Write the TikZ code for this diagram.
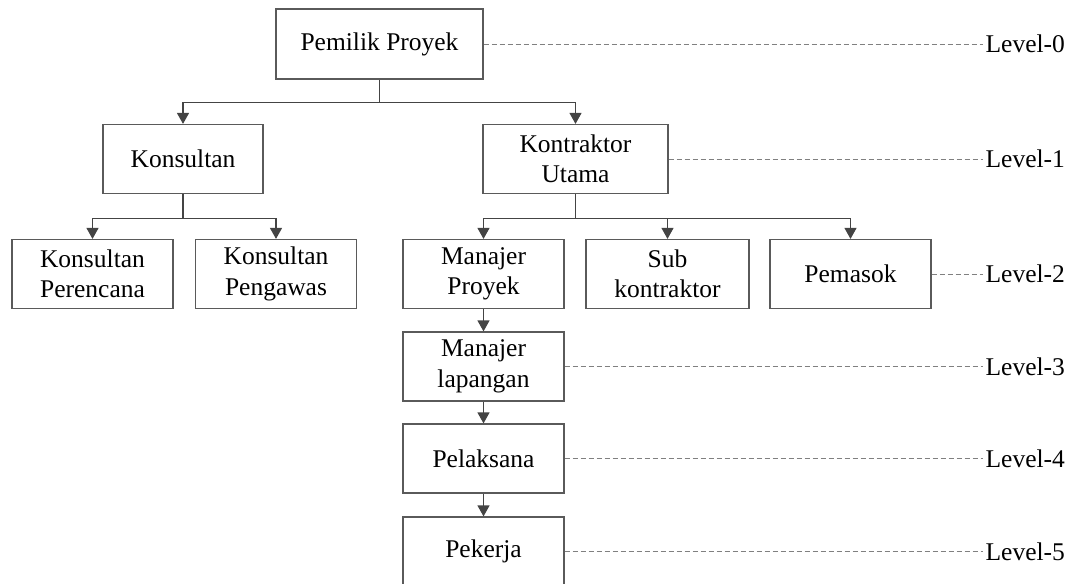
\documentclass[tikz,border=0pt]{standalone}
\usepackage{fontspec}
\setmainfont{Liberation Serif}
\usepackage{tikz}
\usetikzlibrary{positioning,arrows.meta}
\definecolor{boxgray}{HTML}{5A5A5A}
\definecolor{arrgray}{HTML}{444444}
\definecolor{dashgray}{HTML}{808080}
\begin{document}
\begin{tikzpicture}[on grid, line width=1.2pt,
    font=\fontsize{25.5}{30.5}\selectfont,
    unit/.style={rectangle, draw=boxgray, align=center, inner sep=0pt,
      minimum width=161pt, minimum height=69pt},
    tree/.style={draw=arrgray, -{Triangle[width=12pt,length=11pt]}},
    level/.style={anchor=west, inner sep=2pt},
    guide/.style={draw=dashgray, dashed, dash pattern=on 5pt off 3pt, line width=0.9pt}
    ]
    \useasboundingbox (0,0) rectangle (1067pt,-583pt);
    \node[unit, minimum width=207pt, minimum height=70pt] (PP) at (379.5pt,-44pt) {Pemilik Proyek};
    \node[unit, minimum width=160pt] (KS) [below left = 115pt and 196.5pt of PP] {Konsultan};
    \node[unit, minimum width=185pt] (KU) [below right = 115pt and 196pt of PP] {Kontraktor\\Utama};
    \node[unit] (KP) [below left = 115pt and 90.5pt of KS] {Konsultan\\Perencana};
    \node[unit] (KW) [below right = 115pt and 93pt of KS] {Konsultan\\Pengawas};
    \node[unit] (MP) [below left = 115pt and 92pt of KU] {Manajer\\Proyek};
    \node[unit, minimum width=163pt] (SK) [right = 184pt of MP] {Sub\\kontraktor};
    \node[unit] (PM) [right = 183pt of SK] {Pemasok};
    \node[unit] (ML) [below = 92.5pt of MP] {Manajer\\lapangan};
    \node[unit] (PL) [below = 92pt of ML] {Pelaksana};
    \node[unit] (PK) [below = 93pt of PL] {Pekerja};
    % level labels
    \coordinate (LX) at (983pt,0);
    \node[level] (L0) at (PP -| LX) {Level-0};
    \node[level] (L1) at (KU -| LX) {Level-1};
    \node[level] (L2) at (PM -| LX) {Level-2};
    \node[level] (L3) at (ML -| LX) {Level-3};
    \node[level] (L4) at (PL -| LX) {Level-4};
    \node[level] (L5) at (PK -| LX) {Level-5};
    % tree connectors
    \draw[draw=arrgray] (PP.south) -- ++(0,-23pt) coordinate (B0);
    \draw[tree] (B0) -| (KS.north);
    \draw[tree] (B0) -| (KU.north);
    \draw[draw=arrgray] (KS.south) -- ++(0,-24pt) coordinate (B1);
    \draw[tree] (B1) -| (KP.north);
    \draw[tree] (B1) -| (KW.north);
    \draw[draw=arrgray] (KU.south) -- ++(0,-24pt) coordinate (B2);
    \draw[tree] (B2) -| (MP.north);
    \draw[tree] (B2) -| (SK.north);
    \draw[tree] (B2) -| (PM.north);
    \draw[tree] (MP) -- (ML);
    \draw[tree] (ML) -- (PL);
    \draw[tree] (PL) -- (PK);
    % dashed guides
    \draw[guide] (PP.east) -- (L0.west);
    \draw[guide] (KU.east) -- (L1.west);
    \draw[guide] (PM.east) -- (L2.west);
    \draw[guide] (ML.east) -- (L3.west);
    \draw[guide] (PL.east) -- (L4.west);
    \draw[guide] (PK.east) -- (L5.west);
\end{tikzpicture}
\end{document}
